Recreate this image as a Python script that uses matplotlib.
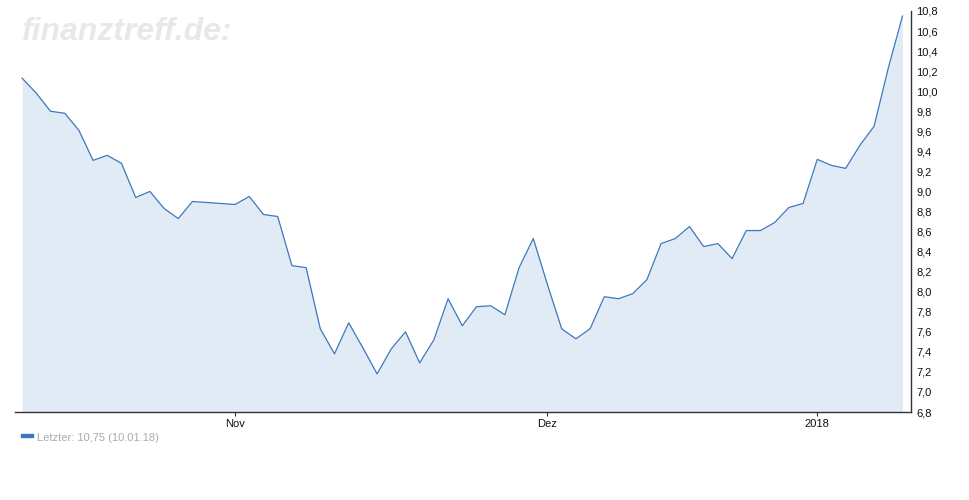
import numpy as np
import matplotlib.pyplot as plt

# Schlusskurse (Handelstage 11.10.2017 - 10.01.2018)
kurse = [10.13, 9.98, 9.80, 9.78, 9.61, 9.31, 9.36, 9.28, 8.94, 9.00,
         8.83, 8.73, 8.90, 8.89, 8.88, 8.87, 8.95, 8.77, 8.75, 8.26,
         8.24, 7.63, 7.38, 7.69, 7.44, 7.18, 7.43, 7.60, 7.29, 7.52,
         7.93, 7.66, 7.85, 7.86, 7.77, 8.24, 8.53, 8.07, 7.63, 7.53,
         7.63, 7.95, 7.93, 7.98, 8.12, 8.48, 8.53, 8.65, 8.45, 8.48,
         8.33, 8.61, 8.61, 8.69, 8.84, 8.88, 9.32, 9.26, 9.23, 9.46,
         9.65, 10.23, 10.75]

# Monatsanfang als Index des Handelstags
monats_idx = [15, 37, 56]
monats_labels = ['Nov', 'Dez', '2018']

y_ticks = np.round(np.arange(6.8, 10.81, 0.2), 1)
y_labels = [f'{v:.1f}'.replace('.', ',') for v in y_ticks]

legend_text = 'Letzter: 10,75 (10.01.18)'

plt.rcParams['font.family'] = ['Liberation Sans', 'DejaVu Sans']

fig = plt.figure(figsize=(9.7, 5.0), dpi=100)
W, H = 970, 500
ax = fig.add_axes([15 / W, 1 - 412 / H, (911 - 15) / W, (412 - 11) / H])

x = np.arange(len(kurse))
ax.fill_between(x, 6.8, kurse, color='#e1ebf5', lw=0)
ax.plot(x, kurse, color='#3d77bd', lw=0.9)

ax.set_xlim(-0.5, 62.6)
ax.set_ylim(6.8, 10.8)

for s in ['top', 'left']:
    ax.spines[s].set_visible(False)
for s in ['bottom', 'right']:
    ax.spines[s].set_color('#333333')
    ax.spines[s].set_linewidth(1.0)

ax.yaxis.tick_right()
ax.set_yticks(y_ticks)
ax.set_yticklabels(y_labels)
ax.tick_params(axis='y', length=0, pad=4, labelsize=8, colors='#111111')

ax.set_xticks(monats_idx)
ax.set_xticklabels(monats_labels)
ax.tick_params(axis='x', length=3, width=0.8, pad=2, labelsize=8, colors='#333333',
               labelcolor='#111111')

# Wasserzeichen
fig.text(22 / W, 1 - 32 / H, 'finanztreff.de:', fontsize=23, fontweight='bold',
         fontstyle='italic', color='#e8e8e8', va='center', ha='left')

# Legende
fig.patches.append(plt.Rectangle((21 / W, 1 - 437 / H), 12 / W, 3 / H,
                                 transform=fig.transFigure, color='#3d77bd'))
fig.text(37 / W, 1 - 438 / H, legend_text, fontsize=8, color='#aaaaaa',
         va='center', ha='left')

fig.savefig('out.png', dpi=100)
